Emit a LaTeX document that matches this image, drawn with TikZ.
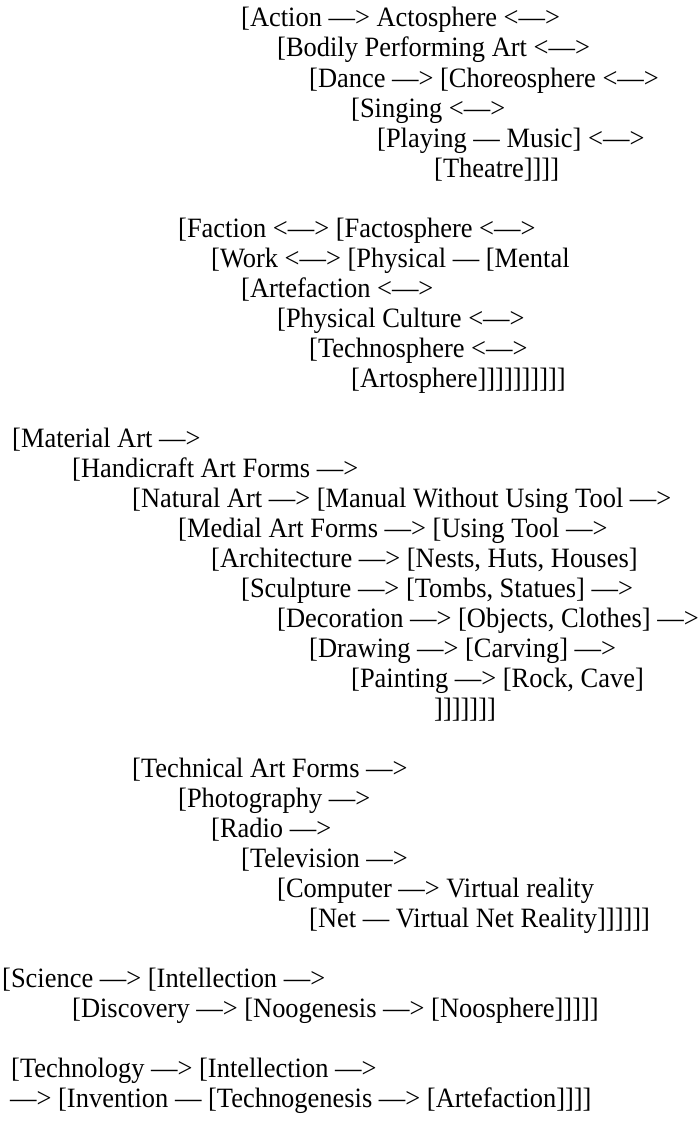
\documentclass[tikz,border=0pt]{standalone}
\usepackage{fontspec}
\setmainfont[FakeStretch=0.945]{Liberation Serif}
\tikzset{
  line/.style={anchor=base west, inner sep=0pt, font=\fontsize{28}{30}\selectfont},
}
\begin{document}
\begin{tikzpicture}[x=1pt, y=-1pt]
\useasboundingbox (0,0) rectangle (700,1124);
\def\base{27}\def\pitch{30}
% ---------- action ----------
\foreach \i/\x/\t in {0/241/{[Action —> Actosphere <—>},
                      1/277/{[Bodily Performing Art <—>},
                      2/309/{[Dance —> [Choreosphere <—>},
                      3/351/{[Singing <—>},
                      4/377/{[Playing — Music] <—>},
                      5/434/{[Theatre]]]]}} {
  \node[line] (act\i) at (\x,{\base+\pitch*\i}) {\t};
}
% ---------- faction ----------
\foreach \i/\x/\t in {7/178/{[Faction <—> [Factosphere <—>},
                      8/211/{[Work <—> [Physical — [Mental},
                      9/241/{[Artefaction <—>},
                      10/277/{[Physical Culture <—>},
                      11/309/{[Technosphere <—>},
                      12/351/{[Artosphere]]]]]]]]]]}} {
  \node[line] (fac\i) at (\x,{\base+\pitch*\i}) {\t};
}
% ---------- material art ----------
\foreach \i/\x/\t in {14/12/{[Material Art —>},
                      15/72/{[Handicraft Art Forms —>},
                      16/132/{[Natural Art —> [Manual Without Using Tool —>},
                      17/178/{[Medial Art Forms —> [Using Tool —>},
                      18/211/{[Architecture —> [Nests, Huts, Houses]},
                      19/241/{[Sculpture —> [Tombs, Statues] —>},
                      20/277/{[Decoration —> [Objects, Clothes] —>},
                      21/309/{[Drawing —> [Carving] —>},
                      22/351/{[Painting —> [Rock, Cave]},
                      23/434/{]]]]]]]}} {
  \node[line] (mat\i) at (\x,{\base+\pitch*\i}) {\t};
}
% ---------- technical art forms ----------
\foreach \i/\x/\t in {25/132/{[Technical Art Forms —>},
                      26/178/{[Photography —>},
                      27/211/{[Radio —>},
                      28/241/{[Television —>},
                      29/277/{[Computer —> Virtual reality},
                      30/309/{[Net — Virtual Net Reality]]]]]]}} {
  \node[line] (tec\i) at (\x,{\base+\pitch*\i}) {\t};
}
% ---------- science, technology ----------
\node[line] (sci) at (2,{\base+\pitch*32}) {[Science —> [Intellection —>};
\node[line] (dis) at (72,{\base+\pitch*33}) {[Discovery —> [Noogenesis —> [Noosphere]]]]]};
\node[line] (tgy) at (11,{\base+\pitch*35}) {[Technology —> [Intellection —>};
\node[line] (inv) at (10,{\base+\pitch*36}) {—> [Invention — [Technogenesis —> [Artefaction]]]]};
\end{tikzpicture}
\end{document}
